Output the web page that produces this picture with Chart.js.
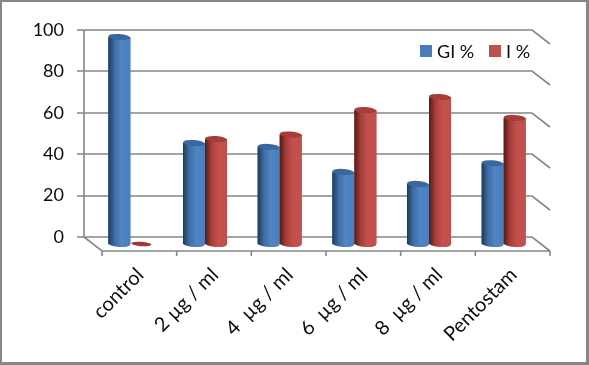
<!DOCTYPE html>
<html>
<head>
<meta charset="utf-8">
<style>
  html, body { margin: 0; padding: 0; background: #fff; }
  #box { position: relative; width: 589px; height: 365px; }
</style>
</head>
<body>
<div id="box"><canvas id="chart" width="589" height="365"></canvas></div>
<script src="https://cdn.jsdelivr.net/npm/chart.js@4/dist/chart.umd.min.js"></script>
<script>
const categories = ["control", "2 µg / ml", "4  µg / ml", "6  µg / ml", "8  µg / ml", "Pentostam"];
const giValues = [100, 48.8, 46.9, 34.8, 29, 39];
const iValues = [0, 50.7, 52.9, 64.7, 71, 60.9];
const yTicks = [0, 20, 40, 60, 80, 100];

const LINE = "#868686";
const TEXT = "#0d0d0d";
const FONT = "Lato";
// the bars stand half way between the back wall and the front of the floor
const DEPTH_X = 9;
const DEPTH_Y = 7;

const bodyStops = {
  blue: ["#1d3a5e", "#3f6fa6", "#4f85c4", "#4a7ebb"],
  red: ["#561a18", "#a83f3c", "#c4504e", "#c0504d"],
};
const capColor = { blue: "#3a689e", red: "#a83c39" };

function ellipse(ctx, x, y, rx, ry) {
  ctx.beginPath();
  ctx.ellipse(x, y, rx, ry, 0.07, 0, Math.PI * 2);
  ctx.fill();
}

function drawCylinder(ctx, bar, key) {
  const rx = bar.width / 2;
  const left = bar.x - rx;
  const g = ctx.createLinearGradient(left, 0, left + bar.width, 0);
  g.addColorStop(0, bodyStops[key][0]);
  g.addColorStop(0.3, bodyStops[key][1]);
  g.addColorStop(0.6, bodyStops[key][2]);
  g.addColorStop(1, bodyStops[key][3]);
  ctx.fillStyle = g;
  if (bar.base - bar.y > 1) {
    ctx.fillRect(left, bar.y, bar.width, bar.base - bar.y);
    ellipse(ctx, bar.x, bar.base, rx, 3);
    ctx.fillStyle = capColor[key];
    ellipse(ctx, bar.x, bar.y, rx, 3);
  } else {
    // zero value, only a flat disc on the floor
    ctx.fillStyle = "#a03633";
    ellipse(ctx, bar.x, bar.y, rx - 1, 2.2);
  }
}

const wallPlugin = {
  id: "wall",
  beforeDraw(chart) {
    const ctx = chart.ctx;
    ctx.save();
    ctx.fillStyle = "#fff";
    ctx.fillRect(0, 0, chart.width, chart.height);
    ctx.strokeStyle = LINE;
    ctx.lineWidth = 3;
    ctx.strokeRect(0.5, 0.5, chart.width - 2, chart.height - 2);
    ctx.restore();
  },
  beforeDatasetsDraw(chart) {
    const ctx = chart.ctx;
    const area = chart.chartArea;
    const wall = chart.scales.yWall;
    const x = chart.scales.x;
    const backL = area.left - DEPTH_X;
    const backR = area.right - DEPTH_X;
    const front = area.bottom;
    const zero = wall.getPixelForValue(0);
    ctx.save();
    ctx.strokeStyle = LINE;
    ctx.lineWidth = 1.6;
    ctx.beginPath();
    yTicks.forEach(v => {
      const py = Math.round(wall.getPixelForValue(v));
      ctx.moveTo(backL - 7, py);
      ctx.lineTo(backR, py);
      ctx.lineTo(backR + 2 * DEPTH_X, py + 2 * DEPTH_Y);
    });
    ctx.moveTo(backL, wall.getPixelForValue(100));
    ctx.lineTo(backL, zero);
    ctx.lineTo(backL + 2 * DEPTH_X, front);
    ctx.lineTo(backR + 2 * DEPTH_X, front);
    const step = x.getPixelForValue(1) - x.getPixelForValue(0);
    for (let i = 0; i <= categories.length; i++) {
      const px = x.getPixelForValue(0) - step / 2 + i * step + DEPTH_X;
      ctx.moveTo(px, front);
      ctx.lineTo(px, front + 5);
    }
    ctx.stroke();
    ctx.restore();
  },
  afterDatasetsDraw(chart) {
    const ctx = chart.ctx;
    ctx.save();
    ["blue", "red"].forEach((key, i) => {
      chart.getDatasetMeta(i).data.forEach(bar => drawCylinder(ctx, bar, key));
    });
    // legend inside the plot, the built in one reserves room above the axes
    const legendX = [420, 489];
    ctx.font = "18px " + FONT;
    ctx.textBaseline = "middle";
    chart.data.datasets.forEach((ds, i) => {
      ctx.fillStyle = ds.backgroundColor;
      ctx.fillRect(legendX[i], 45, 12, 12);
      ctx.fillStyle = TEXT;
      ctx.fillText(ds.label, legendX[i] + 17, 52);
    });
    ctx.restore();
  },
};

new Chart(document.getElementById("chart"), {
  type: "bar",
  data: {
    labels: categories,
    datasets: [
      { label: "GI %", data: giValues, backgroundColor: "#4a7ebb", borderWidth: 0 },
      { label: "I %", data: iValues, backgroundColor: "#c0504d", borderWidth: 0 },
    ],
  },
  plugins: [wallPlugin],
  options: {
    responsive: false,
    animation: false,
    events: [],
    layout: { padding: { right: 48, top: 30, left: 0, bottom: 0 } },
    datasets: { bar: { categoryPercentage: 0.59, barPercentage: 1 } },
    scales: {
      x: {
        grid: { display: false },
        border: { display: false },
        afterFit(axis) { axis.height = 114; },
        ticks: {
          color: TEXT,
          font: { family: FONT, size: 20 },
          minRotation: 45,
          maxRotation: 45,
          autoSkip: false,
          padding: 4,
          labelOffset: 10,
        },
      },
      y: { display: false, min: -3.38, max: 103.38 },
      yWall: {
        position: "left",
        min: -6.76,
        max: 100,
        // tick padding would push the plot top down, so a clear tick makes the gap
        grid: { drawOnChartArea: false, tickLength: 29, tickColor: "transparent" },
        border: { display: false },
        afterFit(axis) { axis.width = 93; },
        afterBuildTicks(axis) { axis.ticks = yTicks.map(value => ({ value })); },
        ticks: {
          color: TEXT,
          font: { family: FONT, size: 18 },
          padding: 0,
        },
      },
    },
    plugins: {
      tooltip: { enabled: false },
      legend: { display: false },
    },
  },
});
</script>
</body>
</html>
